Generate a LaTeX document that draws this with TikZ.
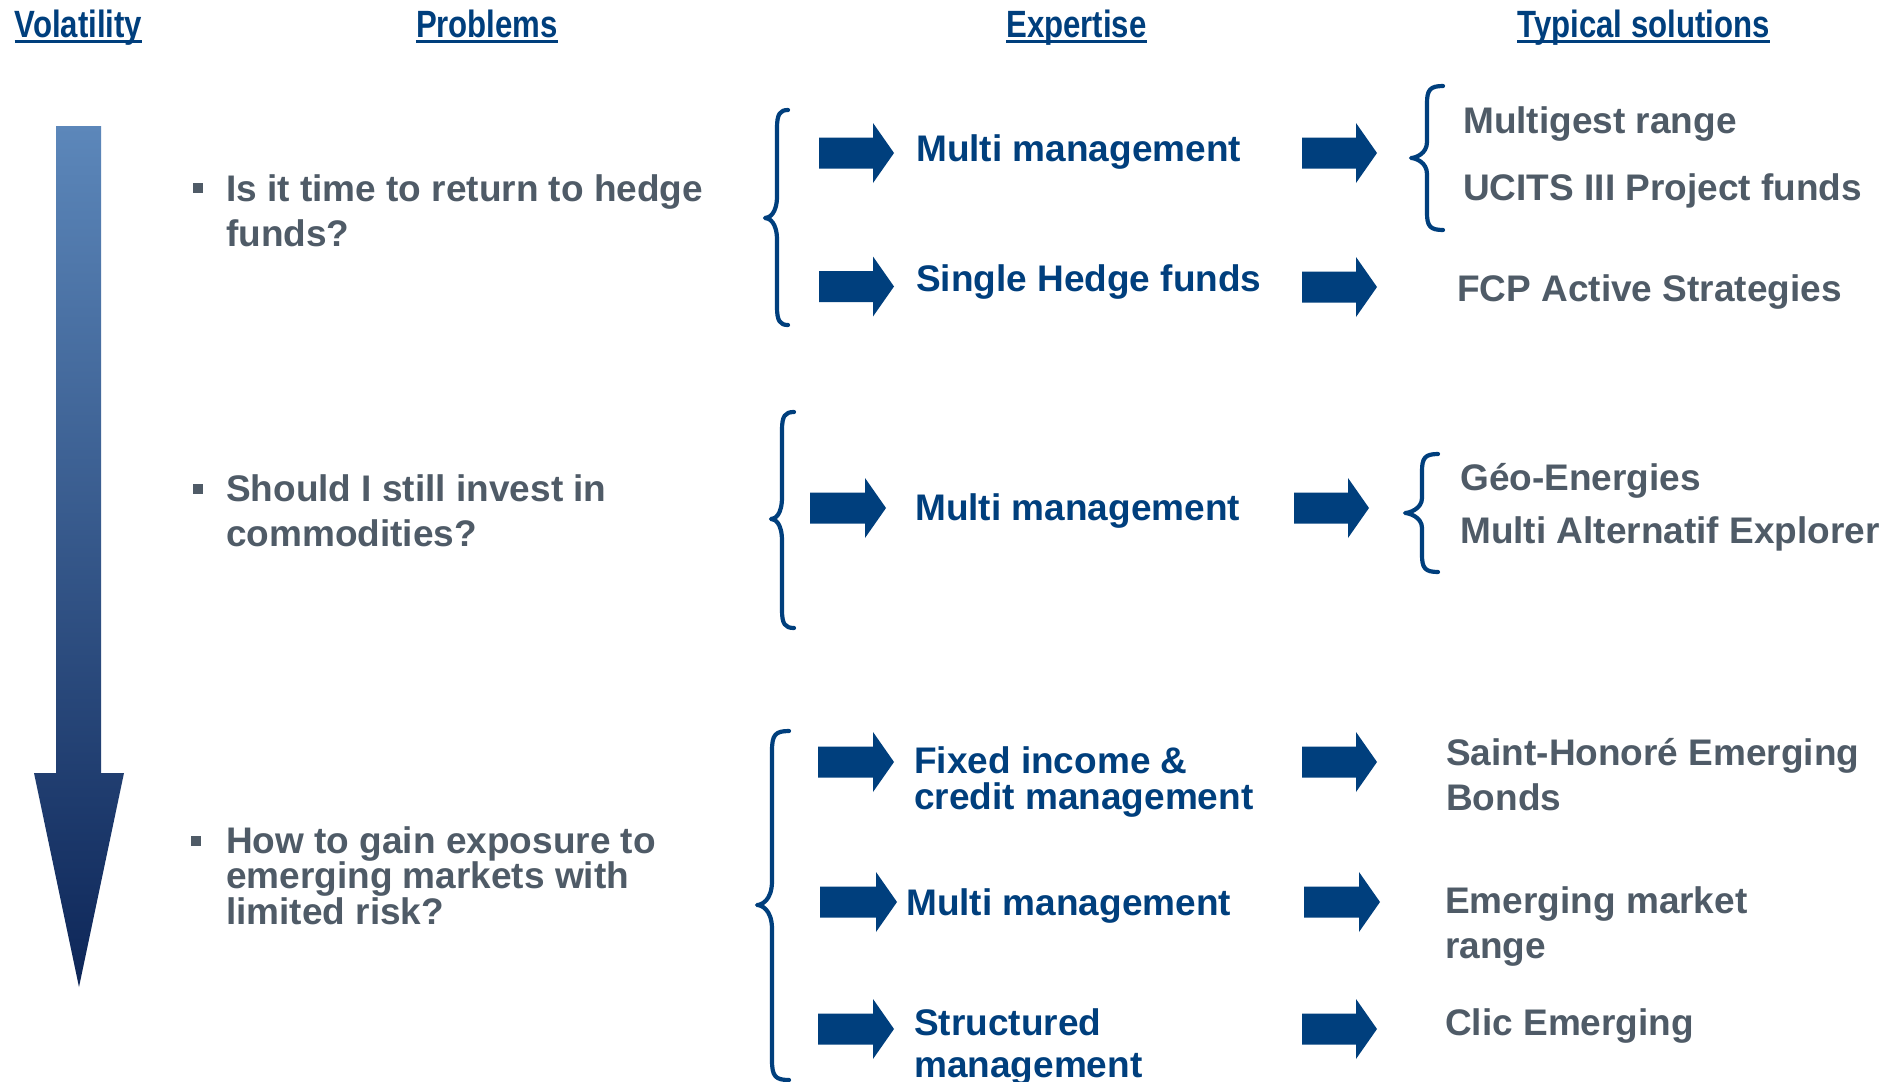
\documentclass[tikz,border=0pt]{standalone}
\usepackage{fontspec}
\setmainfont{Liberation Sans}
\newfontfamily\narrowfont[FakeStretch=0.82]{Liberation Sans}
\definecolor{dblue}{HTML}{003F7D}
\definecolor{tgray}{HTML}{4F5B67}
\definecolor{gtop}{HTML}{5C87BA}
\definecolor{gbot}{HTML}{0D2658}
\newcommand\nolsk{\lineskiplimit=-60pt\relax}
\tikzset{
  hdr/.style={anchor=base, inner sep=0pt, text=dblue, font={\narrowfont\bfseries\fontsize{38}{38}\selectfont}},
  uline/.style={draw=dblue, line width=2.7pt},
  prob/.style={anchor=base west, inner sep=0pt, text=tgray, align=left, font={\bfseries\fontsize{37}{45}\selectfont\nolsk}},
  probtight/.style={prob, font={\bfseries\fontsize{37}{35.5}\selectfont\nolsk}},
  expt/.style={anchor=base west, inner sep=0pt, text=dblue, align=left, font={\bfseries\fontsize{37}{36}\selectfont\nolsk}},
  exptwide/.style={expt, font={\bfseries\fontsize{37}{42}\selectfont\nolsk}},
  sol/.style={anchor=base west, inner sep=0pt, text=tgray, align=left, font={\bfseries\fontsize{37}{45}\selectfont\nolsk}},
  blockarrow/.style={fill=dblue, draw=none},
  bracestyle/.style={draw=dblue, line width=4.2pt, line cap=round, line join=round},
  bulletbox/.style={fill=tgray, draw=none},
}
% block arrow: x start, x tip, y centre
\newcommand\blockarr[3]{%
  \fill[blockarrow] (#1,#3-15.5) -- (#2-21,#3-15.5) -- (#2-21,#3-30) -- (#2,#3)
    -- (#2-21,#3+30) -- (#2-21,#3+15.5) -- (#1,#3+15.5) -- cycle;}
% left curly brace: xl (cusp), xm (stem), xr (ends), top, cusp y, bottom, end radius, cusp radius
\newcommand\lbrc[8]{%
  \draw[bracestyle] (#3,#4) .. controls (#2+3,#4) and (#2,#4+4) .. (#2,#4+#7)
    -- (#2,#5-#8) .. controls (#2,#5-4) and (#1+4,#5) .. (#1,#5)
    .. controls (#1+4,#5) and (#2,#5+4) .. (#2,#5+#8)
    -- (#2,#6-#7) .. controls (#2,#6-4) and (#2+3,#6) .. (#3,#6);}
\begin{document}
\begin{tikzpicture}[x=1pt,y=-1pt]
\useasboundingbox (0,0) rectangle (1899,1082);
\fill[white] (0,0) rectangle (1899,1082);
\clip (0,0) rectangle (1899,1082);

% headers
\node[hdr] (hvol)  at (78.5,37)  {Volatility};
\node[hdr] (hprob) at (487,37)   {Problems};
\node[hdr] (hexp)  at (1076.5,37){Expertise};
\node[hdr] (hsol)  at (1643.5,37){Typical solutions};
\foreach \h in {hvol,hprob,hexp,hsol}
  \draw[uline] ([yshift=-4.7pt]\h.base west) -- ([yshift=-4.7pt]\h.base east);

% volatility arrow
\shade[top color=gtop, bottom color=gbot]
  (56,126) -- (101,126) -- (101,773) -- (124,773) -- (79,987) -- (34,773) -- (56,773) -- cycle;

% bullets
\fill[bulletbox] (193,183) rectangle (203,193);
\fill[bulletbox] (193,484) rectangle (203,494);
\fill[bulletbox] (191,836) rectangle (201,846);

% problems (anchored at the baseline of the last line)
\node[prob] (p1) at (226,246) {Is it time to return to hedge\\funds?};
\node[prob] (p2) at (226,546) {Should I still invest in\\commodities?};
\node[probtight] (p3) at (226,924) {How to gain exposure to\\emerging markets with\\limited risk?};

% expertise
\node[expt] (e1a) at (916,161)   {Multi management};
\node[expt] (e1b) at (916,291.5) {Single Hedge funds};
\node[expt] (e2)  at (915,520)   {Multi management};
\node[expt] (e3a) at (914,809)   {Fixed income \&\\credit management};
\node[expt] (e3b) at (906,915)   {Multi management};
\node[exptwide] (e3c) at (914,1077)  {Structured\\management};

% solutions
\node[sol] (s1a) at (1463,133) {Multigest range};
\node[sol] (s1b) at (1463,200) {UCITS III Project funds};
\node[sol] (s1c) at (1457,301) {FCP Active Strategies};
\node[sol] (s2a) at (1460,490) {Géo-Energies};
\node[sol] (s2b) at (1460,543) {Multi Alternatif Explorer};
\node[sol] (s3a) at (1446,810) {Saint-Honoré Emerging\\Bonds};
\node[sol] (s3b) at (1445,958) {Emerging market\\range};
\node[sol] (s3c) at (1445,1035){Clic Emerging};

% left arrows
\blockarr{819}{894}{153}
\blockarr{819}{894}{286.5}
\blockarr{810}{886}{508}
\blockarr{818}{894}{762}
\blockarr{820}{897}{902}
\blockarr{818}{894}{1029}
% right arrows
\blockarr{1302}{1377}{153}
\blockarr{1302}{1377}{287}
\blockarr{1294}{1369}{508}
\blockarr{1302}{1377}{762}
\blockarr{1304}{1380}{902}
\blockarr{1302}{1377}{1029}

% braces
\lbrc{765}{777}{788}{110}{218}{325}{18}{22}
\lbrc{771}{782}{794}{412}{519}{628}{18}{22}
\lbrc{757}{772}{789}{731}{905}{1080}{20}{24}
\lbrc{1411}{1427}{1443}{86}{158}{230}{17}{16}
\lbrc{1405}{1422}{1438}{454}{513}{572}{17}{15}
\end{tikzpicture}
\end{document}
